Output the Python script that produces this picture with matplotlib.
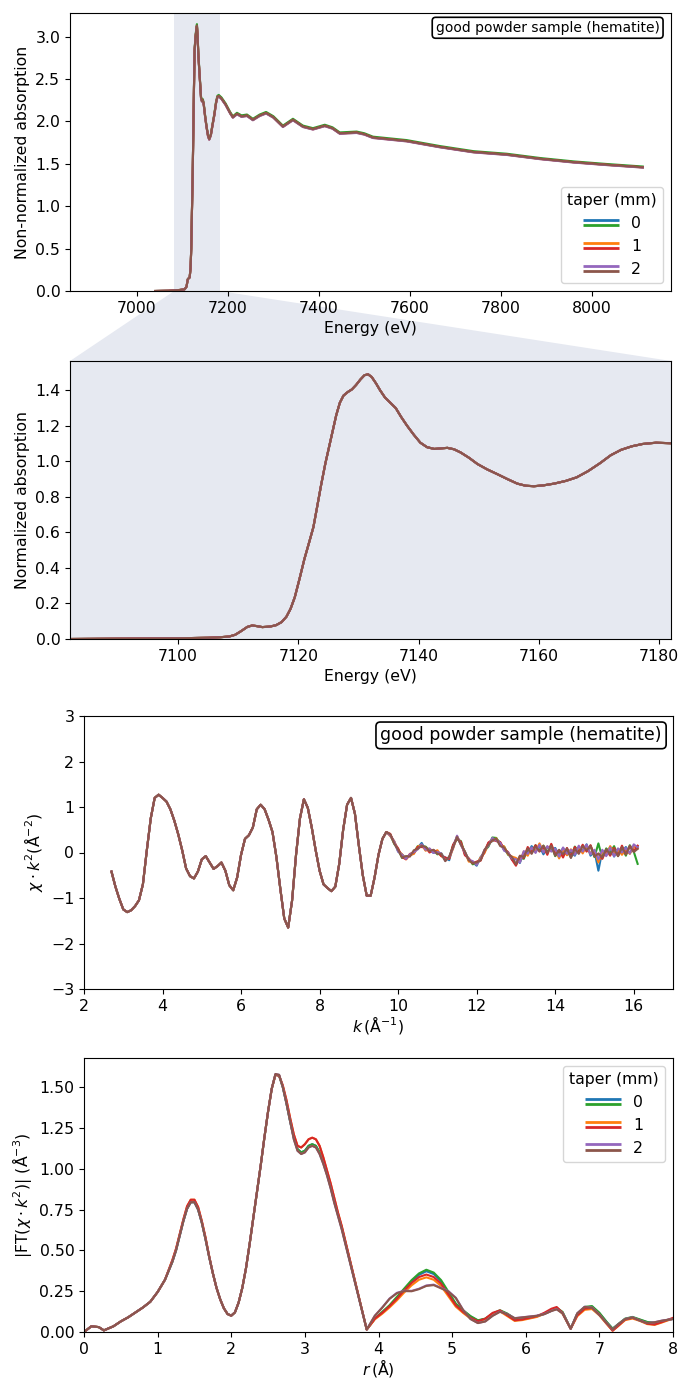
import numpy as np
import matplotlib
matplotlib.use("Agg")
import matplotlib.pyplot as plt
from matplotlib.legend_handler import HandlerBase
from matplotlib.lines import Line2D
from matplotlib.patches import Polygon

# --- data ---
tapers = ["0", "1", "2"]
colors = ["tab:blue", "tab:green", "tab:orange", "tab:red", "tab:purple", "tab:brown"]

# raw absorption (top panel)
e_raw = [7040, 7070, 7094, 7105, 7109, 7112, 7114, 7116, 7118, 7119.5, 7121, 7122.5,
         7124, 7125.5, 7127, 7129, 7131, 7132, 7133.5, 7135, 7137, 7139, 7141,
         7143, 7145, 7147, 7150, 7153, 7156.4, 7159, 7162.6, 7166, 7170.3, 7174,
         7177, 7180, 7186, 7195, 7205, 7211, 7220, 7230, 7242, 7255, 7270, 7284, 7300,
         7321, 7343, 7365, 7387, 7413, 7430, 7446, 7483, 7500, 7519, 7593, 7666, 7740,
         7813, 7886, 7960, 8032, 8112]
mu_raw = [0.0, 0.003, 0.012, 0.02, 0.05, 0.14, 0.15, 0.16, 0.27, 0.50, 0.93, 1.32,
          1.85, 2.40, 2.85, 3.00, 3.10, 3.13, 3.00, 2.80, 2.62, 2.45, 2.28,
          2.24, 2.25, 2.20, 2.06, 1.94, 1.83, 1.79, 1.84, 1.95, 2.08, 2.22,
          2.29, 2.30, 2.27, 2.20, 2.10, 2.05, 2.09, 2.06, 2.07, 2.02, 2.07, 2.10, 2.05,
          1.94, 2.02, 1.94, 1.91, 1.95, 1.92, 1.86, 1.87, 1.85, 1.81, 1.77, 1.70, 1.64,
          1.61, 1.56, 1.52, 1.49, 1.46]
raw_scale = [1.0, 1.006, 0.998, 1.0, 0.997, 1.0]

# normalized XANES (zoom panel)
e_norm = [7082, 7090, 7100, 7105, 7107, 7108.5, 7109.5, 7110.5, 7111.5, 7112.3, 7113,
          7114, 7115.3, 7116.3, 7117.2, 7118, 7118.7, 7119.4, 7120.2, 7121, 7121.8,
          7122.5, 7123.1, 7123.8, 7124.5, 7125.1, 7125.7, 7126.3, 7126.9, 7127.5,
          7128.2, 7128.9, 7129.6, 7130.3, 7131.0, 7131.6, 7132.2, 7132.9, 7133.6,
          7134.4, 7135.3, 7136.2, 7137.1, 7138.1, 7139.2, 7140.3, 7141.4, 7142.6,
          7143.7, 7144.8, 7145.9, 7147, 7148.4, 7149.8, 7151.4, 7153.1, 7154.8, 7156.4,
          7157.8, 7159.2, 7160.8, 7162.6, 7164.5, 7166.3, 7168.2, 7170.2, 7172, 7173.7,
          7175.5, 7177.3, 7179.5, 7182, 7186, 7190]
mu_norm = [0.0, 0.002, 0.004, 0.007, 0.010, 0.014, 0.024, 0.045, 0.068, 0.076, 0.073,
           0.067, 0.070, 0.078, 0.095, 0.125, 0.17, 0.235, 0.34, 0.45, 0.545,
           0.63, 0.74, 0.87, 0.99, 1.08, 1.17, 1.26, 1.33, 1.37,
           1.39, 1.405, 1.43, 1.46, 1.485, 1.49, 1.475, 1.44, 1.40,
           1.36, 1.33, 1.30, 1.25, 1.20, 1.15, 1.105, 1.08, 1.07,
           1.073, 1.076, 1.068, 1.05, 1.02, 0.985, 0.955, 0.928, 0.90, 0.875,
           0.863, 0.86, 0.865, 0.875, 0.89, 0.91, 0.945, 0.99, 1.035, 1.065,
           1.085, 1.098, 1.105, 1.102, 1.095, 1.08]

# chi(k)*k^2, k from 2.7 in steps of 0.1
k_start, k_step = 2.7, 0.1
chi_base = [-0.42, -0.75, -1.02, -1.25, -1.31, -1.27, -1.18, -1.05, -0.70, 0.05,
            0.75, 1.20, 1.27, 1.20, 1.12, 0.95, 0.70, 0.40, 0.05, -0.35,
            -0.52, -0.57, -0.42, -0.15, -0.08, -0.22, -0.36, -0.30, -0.22, -0.40,
            -0.72, -0.83, -0.55, -0.05, 0.30, 0.38, 0.55, 0.95, 1.05, 0.95,
            0.72, 0.45, -0.10, -0.80, -1.45, -1.65, -1.05, -0.05, 0.75, 1.17,
            0.98, 0.55, 0.05, -0.40, -0.70, -0.78, -0.85, -0.75, -0.25, 0.50,
            1.05, 1.20, 0.85, 0.15, -0.50, -0.95, -0.95, -0.55, -0.05, 0.30,
            0.45, 0.38, 0.22, 0.05, -0.08, -0.12, -0.08, 0.02, 0.10, 0.16,
            0.08, 0.05, 0.03, 0.00, -0.05, -0.15, -0.12, 0.12, 0.32, 0.20,
            -0.02, -0.15, -0.22, -0.25, -0.15, 0.02, 0.18, 0.30, 0.28, 0.18,
            0.08, -0.02, -0.12, -0.20, -0.15, -0.05, 0.02, 0.05, 0.08, 0.10,
            0.06, 0.05, 0.10, 0.02, -0.02, 0.00, 0.02, -0.02, 0.02, 0.05,
            0.08, 0.10, 0.05, -0.02, -0.10, -0.05, 0.00, 0.05, 0.02, 0.00,
            0.05, 0.02, 0.05, 0.08, 0.05]
# per-scan noise (hundredths) on the tail, from k = 9.8
noise_start = 71
chi_noise = [
    [0, 2, -3, 4, -2, 3, -4, 1, 5, -3, 2, -4, 3, -1, 4, -5, 2, 3, -2, 4, -3, 1, -4, 5,
     -2, 3, -5, 2, 4, -3, 1, -4, 6, -8, 5, -3, 9, -6, 4, -10, 7, -5, 8, -4, 10, -7, 3, -9,
     6, -5, 8, -12, 5, -30, 9, -6, 7, -11, 8, -4, 10, -7, 5, 8],
    [1, -3, 2, -4, 3, 1, -2, 4, -3, 5, -1, 2, -4, 3, -2, 1, 4, -3, 5, -2, 1, -4, 3, -1,
     2, -5, 3, 4, -2, 5, -3, 2, -7, 5, -9, 6, -4, 8, -6, 9, -5, 7, -10, 4, -8, 6, -9, 11,
     -4, 7, -6, 10, -8, 30, -7, 9, -5, 12, -8, 6, -9, 11, -6, -30],
    [-2, 3, -1, 4, -3, 2, -5, 3, 1, -4, 3, -2, 5, -3, 2, -1, -3, 4, -2, 3, -5, 2, -1, 4,
     -3, 2, -4, 3, -1, 5, -2, 3, 8, -5, 7, -9, 5, -6, 10, -4, 8, -7, 5, -11, 6, -8, 9, -5,
     7, -10, 4, -8, 6, -12, 8, -6, 9, -4, 7, -10, 5, -8, 6, 4],
    [3, -1, 4, -2, -3, 5, -2, 2, -4, 3, -5, 2, 1, -3, 4, -2, 5, -1, 3, -4, 2, -2, 5, -3,
     1, 4, -2, -3, 5, -1, 3, -4, -9, 6, -7, 10, -5, 8, -8, 6, -10, 9, -6, 7, -11, 8, -7, 10,
     -6, 9, -8, 11, -5, 7, -9, 6, -12, 8, -7, 10, -6, 9, -5, 10],
    [-1, 2, -3, 3, -2, 4, -1, -3, 2, -2, 4, -4, 1, 3, -3, 2, -2, 5, -4, 2, -1, 3, -2, 1,
     4, -3, 2, -2, 3, -4, 2, -1, 5, -7, 8, -5, 6, -9, 7, -6, 9, -8, 6, -7, 11, -5, 8, -7,
     10, -6, 7, -9, 8, -5, 11, -8, 6, -10, 9, -5, 8, -7, 10, 6],
    [2, -2, 1, -3, 4, -1, 3, -2, -1, 4, -2, 3, -3, 2, -4, 3, -1, 2, -3, 4, -2, -1, 3, -2,
     4, -1, -3, 2, -4, 3, -1, 2, -6, 8, -5, 7, -8, 5, -7, 9, -6, 5, -9, 8, -4, 7, -10, 6,
     -8, 6, -5, 9, -7, 8, -6, 7, -9, 5, -8, 7, -6, 9, -7, 3],
]

# |FT| vs r, one curve per taper
r_ft = [0.0, 0.1, 0.2, 0.27, 0.4, 0.5, 0.6, 0.7, 0.8, 0.9, 1.0, 1.1,
        1.2, 1.25, 1.3, 1.35, 1.4, 1.45, 1.5, 1.55, 1.6, 1.65, 1.7, 1.75, 1.8, 1.85,
        1.9, 1.95, 2.0, 2.05, 2.1, 2.15, 2.2, 2.25, 2.3, 2.35, 2.4, 2.45, 2.5, 2.55,
        2.6, 2.65, 2.7, 2.75, 2.8, 2.85, 2.9, 2.95, 3.0, 3.05, 3.1, 3.15, 3.2, 3.25,
        3.3, 3.35, 3.4, 3.45, 3.5, 3.84,
        3.95, 4.05, 4.15, 4.25, 4.35, 4.45, 4.55, 4.65, 4.75, 4.85, 4.95, 5.05, 5.15,
        5.25, 5.35, 5.45, 5.55, 5.65, 5.75, 5.85, 5.95, 6.05, 6.15, 6.25, 6.35,
        6.42, 6.5, 6.61, 6.7, 6.8, 6.9, 7.0, 7.1, 7.18, 7.25, 7.35, 7.45, 7.55, 7.65,
        7.75, 7.85, 8.0]
ft_taper0 = [0.0, 0.035, 0.03, 0.01, 0.035, 0.065, 0.09, 0.12, 0.15, 0.185, 0.245, 0.32,
             0.43, 0.50, 0.59, 0.68, 0.755, 0.795, 0.795, 0.75, 0.67, 0.57, 0.46, 0.36,
             0.27, 0.20, 0.145, 0.11, 0.10, 0.12, 0.18, 0.27, 0.39, 0.54, 0.70, 0.86,
             1.02, 1.19, 1.35, 1.49, 1.575, 1.57, 1.50, 1.40, 1.29, 1.19, 1.12, 1.10,
             1.11, 1.14, 1.15, 1.14, 1.10, 1.04, 0.97, 0.89, 0.80, 0.72, 0.64, 0.015,
             0.08, 0.12, 0.16, 0.21, 0.26, 0.31, 0.35, 0.372, 0.355, 0.31, 0.24, 0.17,
             0.13, 0.095, 0.07, 0.08, 0.11, 0.13, 0.11, 0.08, 0.08, 0.085, 0.095, 0.11,
             0.13, 0.145, 0.12, 0.02, 0.11, 0.15, 0.155, 0.115, 0.06, 0.02, 0.045, 0.08,
             0.09, 0.075, 0.06, 0.055, 0.065, 0.08]
ft_taper1 = [0.0, 0.035, 0.03, 0.01, 0.035, 0.065, 0.09, 0.12, 0.15, 0.185, 0.245, 0.32,
             0.44, 0.51, 0.60, 0.69, 0.77, 0.81, 0.81, 0.765, 0.68, 0.58, 0.465, 0.36,
             0.27, 0.20, 0.145, 0.11, 0.10, 0.12, 0.18, 0.27, 0.39, 0.54, 0.70, 0.86,
             1.02, 1.19, 1.35, 1.49, 1.575, 1.57, 1.51, 1.42, 1.31, 1.21, 1.14, 1.13,
             1.15, 1.18, 1.19, 1.18, 1.14, 1.07, 0.99, 0.91, 0.82, 0.73, 0.65, 0.015,
             0.08, 0.115, 0.155, 0.20, 0.25, 0.295, 0.33, 0.345, 0.33, 0.29, 0.225, 0.16,
             0.12, 0.085, 0.065, 0.08, 0.115, 0.13, 0.10, 0.07, 0.075, 0.085, 0.095, 0.115,
             0.14, 0.15, 0.115, 0.02, 0.10, 0.14, 0.145, 0.105, 0.05, 0.008, 0.035, 0.075,
             0.085, 0.07, 0.05, 0.045, 0.06, 0.085]
ft_taper2 = [0.0, 0.035, 0.03, 0.01, 0.035, 0.065, 0.09, 0.12, 0.15, 0.185, 0.245, 0.32,
             0.43, 0.50, 0.59, 0.68, 0.755, 0.795, 0.795, 0.75, 0.67, 0.57, 0.46, 0.36,
             0.27, 0.20, 0.145, 0.11, 0.10, 0.12, 0.18, 0.27, 0.39, 0.54, 0.70, 0.86,
             1.02, 1.19, 1.35, 1.49, 1.58, 1.575, 1.50, 1.40, 1.29, 1.18, 1.11, 1.09,
             1.10, 1.13, 1.14, 1.13, 1.09, 1.03, 0.96, 0.88, 0.79, 0.71, 0.63, 0.015,
             0.10, 0.15, 0.205, 0.24, 0.253, 0.252, 0.265, 0.285, 0.29, 0.27, 0.25, 0.21,
             0.135, 0.08, 0.055, 0.065, 0.10, 0.125, 0.11, 0.085, 0.09, 0.095, 0.10, 0.11,
             0.13, 0.14, 0.115, 0.02, 0.115, 0.155, 0.15, 0.105, 0.055, 0.015, 0.045, 0.08,
             0.09, 0.07, 0.055, 0.06, 0.07, 0.08]
ft_pair_scale = [1.0, 1.025, 0.97, 1.02, 1.0, 0.99]   # applied beyond the 3.84 A minimum
ft_split_r = 3.9

label_box = "good powder sample (hematite)"
zoom_range = (7082, 7182)
shade = "#e6e9f1"

plt.rcParams["font.size"] = 11.3


class HandlerPair(HandlerBase):
    # two stacked lines per legend entry
    def create_artists(self, legend, orig_handle, xdescent, ydescent, width,
                       height, fontsize, trans):
        arts = []
        for i, ln in enumerate(orig_handle):
            y = height / 2 - ydescent + (0.25 if i == 0 else -0.25) * height
            a = Line2D([-xdescent, width - xdescent], [y, y], color=ln.get_color(),
                       lw=2.0, solid_capstyle="butt")
            a.set_transform(trans)
            arts.append(a)
        return arts


def pair_legend(ax, lines, loc):
    handles = [(lines[0], lines[1]), (lines[2], lines[3]), (lines[4], lines[5])]
    ax.legend(handles, tapers, title="taper (mm)", loc=loc, handlelength=2.3,
              handler_map={tuple: HandlerPair()}, fontsize=11.3, title_fontsize=11.3)


W, H = 680, 1381
fig = plt.figure(figsize=(W / 100, H / 100), dpi=100)


def add_ax(l, r, t, b):
    return fig.add_axes([l / W, 1 - b / H, (r - l) / W, (b - t) / H])


ax1 = add_ax(70, 671, 13, 291)
ax2 = add_ax(70, 671, 361, 639)
ax3 = add_ax(84, 673, 716, 989)
ax4 = add_ax(84, 673, 1058, 1332)

# panel 1: raw
ax1.axvspan(*zoom_range, color=shade, zorder=0, lw=0)
lines1 = []
for c, s in zip(colors, raw_scale):
    ln, = ax1.plot(e_raw, np.array(mu_raw) * s, color=c, lw=1.5)
    lines1.append(ln)
ax1.set_xlim(6853, 8174)
ax1.set_ylim(0, 3.28)
ax1.set_xlabel("Energy (eV)")
ax1.set_ylabel("Non-normalized absorption")
ax1.text(0.981, 0.972, label_box, transform=ax1.transAxes, ha="right", va="top",
         fontsize=10, bbox=dict(boxstyle="round,pad=0.25", fc="white", ec="black", lw=1.2))
pair_legend(ax1, lines1, "lower right")

# panel 2: normalized zoom
ax2.set_facecolor(shade)
for c in colors:
    ax2.plot(e_norm, mu_norm, color=c, lw=1.5)
ax2.set_xlim(*zoom_range)
ax2.set_ylim(0, 1.565)
ax2.set_xlabel("Energy (eV)")
ax2.set_ylabel("Normalized absorption")

# connector between span and zoom panel
fig_inv = fig.transFigure.inverted()
p_a = fig_inv.transform(ax1.transData.transform((zoom_range[0], 0)))
p_b = fig_inv.transform(ax1.transData.transform((zoom_range[1], 0)))
p_c = fig_inv.transform(ax2.transAxes.transform((1, 1)))
p_d = fig_inv.transform(ax2.transAxes.transform((0, 1)))
fig.patches.append(Polygon([p_a, p_b, p_c, p_d], closed=True, transform=fig.transFigure,
                           fc=shade, ec="none", zorder=-1))

# panel 3: chi(k)
k = k_start + k_step * np.arange(len(chi_base))
for c, nz in zip(colors, chi_noise):
    y = np.array(chi_base, dtype=float)
    y[noise_start:] += np.array(nz) / 100.0
    ax3.plot(k, y, color=c, lw=1.5)
ax3.set_xlim(2, 17)
ax3.set_ylim(-3, 3)
ax3.set_xlabel(r"$k\,(\mathrm{\AA}^{-1})$", labelpad=0)
ax3.set_ylabel(r"$\chi \cdot k^2(\mathrm{\AA}^{-2})$")
ax3.text(0.981, 0.962, label_box, transform=ax3.transAxes, ha="right", va="top",
         fontsize=12.5, bbox=dict(boxstyle="round,pad=0.25", fc="white", ec="black", lw=1.2))

# panel 4: |FT|
ft_curves = [ft_taper0, ft_taper0, ft_taper1, ft_taper1, ft_taper2, ft_taper2]
r_arr = np.array(r_ft)
lines4 = []
for c, f, s in zip(colors, ft_curves, ft_pair_scale):
    y = np.array(f, dtype=float)
    y[r_arr > ft_split_r] *= s
    ln, = ax4.plot(r_arr, y, color=c, lw=1.5)
    lines4.append(ln)
ax4.set_xlim(0, 8)
ax4.set_ylim(0, 1.678)
ax4.set_xlabel(r"$r\,(\mathrm{\AA})$", labelpad=0)
ax4.set_ylabel(r"$|\mathrm{FT}(\chi \cdot k^2)|\ (\mathrm{\AA}^{-3})$")
pair_legend(ax4, lines4, "upper right")

fig.savefig("out.png", dpi=100)
